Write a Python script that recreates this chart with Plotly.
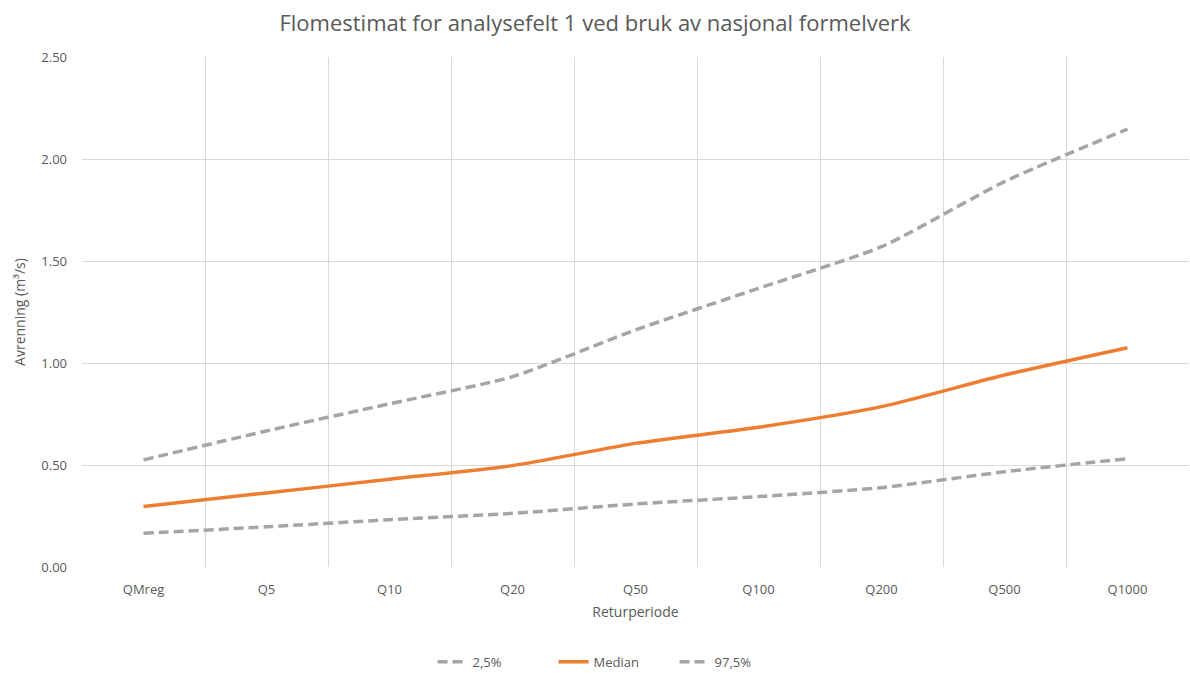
import plotly.graph_objects as go

# Return periods and flood estimates (m³/s)
periods = ["QMreg", "Q5", "Q10", "Q20", "Q50", "Q100", "Q200", "Q500", "Q1000"]
lower_2_5 = [0.165, 0.197, 0.232, 0.263, 0.309, 0.345, 0.389, 0.467, 0.531]
median = [0.297, 0.363, 0.430, 0.497, 0.606, 0.685, 0.786, 0.941, 1.075]
upper_97_5 = [0.525, 0.667, 0.800, 0.933, 1.162, 1.366, 1.570, 1.889, 2.147]

GRAY = "#A5A5A5"
ORANGE = "#ED7D31"
TEXT = "#595959"
GRID = "#D9D9D9"
FONT = "Open Sans"

fig = go.Figure()
fig.add_trace(go.Scatter(
    x=periods, y=lower_2_5, name="2,5%", mode="lines",
    line=dict(color=GRAY, width=3.5, dash="10px,5px", shape="spline", smoothing=0.6),
))
fig.add_trace(go.Scatter(
    x=periods, y=median, name="Median", mode="lines",
    line=dict(color=ORANGE, width=3.5, shape="spline", smoothing=0.6),
))
fig.add_trace(go.Scatter(
    x=periods, y=upper_97_5, name="97,5%", mode="lines",
    line=dict(color=GRAY, width=3.5, dash="10px,5px", shape="spline", smoothing=0.6),
))

fig.update_layout(
    width=1190, height=674,
    paper_bgcolor="white", plot_bgcolor="white",
    margin=dict(l=82, r=1, t=57, b=107),
    font=dict(family=FONT, color=TEXT, size=12),
    title=dict(
        text="Flomestimat for analysefelt 1 ved bruk av nasjonal formelverk",
        x=0.5, xref="container", xanchor="center",
        y=0.965, yref="container", yanchor="middle",
        font=dict(family=FONT, size=22, color=TEXT),
    ),
    showlegend=True,
    legend=dict(
        orientation="h", x=0.516, xref="container", xanchor="center",
        y=0.018, yref="container", yanchor="middle",
        font=dict(size=13, color=TEXT),
        entrywidth=76, entrywidthmode="pixels",
    ),
)

fig.update_xaxes(
    type="category", tickson="boundaries", range=[-0.5, 8.5],
    showgrid=True, gridcolor=GRID, gridwidth=1,
    showline=False, zeroline=False, ticks="",
    tickfont=dict(size=13, color=TEXT), ticklabelstandoff=13,
    title=dict(text="Returperiode", font=dict(size=14, color=TEXT), standoff=10),
)
fig.update_yaxes(
    range=[0, 2.5], dtick=0.5, tickformat=".2f",
    showgrid=True, gridcolor=GRID, gridwidth=1,
    showline=False, zeroline=False, ticks="",
    tickfont=dict(size=13, color=TEXT), ticklabelstandoff=14,
    title=dict(text="Avrenning (m³/s)", font=dict(size=14, color=TEXT), standoff=12),
)

fig.write_html("out.html")
